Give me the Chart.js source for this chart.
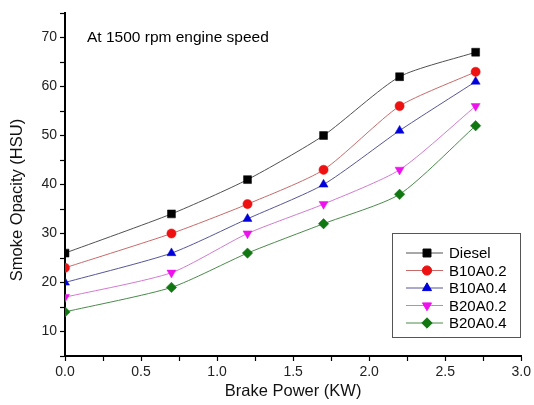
<!DOCTYPE html>
<html>
<head>
<meta charset="utf-8">
<script src="https://cdn.jsdelivr.net/npm/chart.js@4.4.1/dist/chart.umd.min.js"></script>
<style>
  html, body { margin: 0; padding: 0; background: #fff; }
  #wrap { width: 534px; height: 405px; position: relative; }
</style>
</head>
<body>
<div id="wrap"><canvas id="opacityChart"></canvas></div>
<script>
// Datos
const brakePower = [0, 0.7, 1.2, 1.7, 2.2, 2.7];
const seriesNames = ['Diesel', 'B10A0.2', 'B10A0.4', 'B20A0.2', 'B20A0.4'];
const diesel = [26, 34, 41, 50, 62, 67];
const b10a02 = [23, 30, 36, 43, 56, 63];
const b10a04 = [20, 26, 33, 40, 51, 61];
const b20a02 = [17, 22, 30, 36, 43, 56];
const b20a04 = [14, 19, 26, 32, 38, 52];
const xTickLabels = ['0.0', '0.5', '1.0', '1.5', '2.0', '2.5', '3.0'];
const yTickLabels = ['10', '20', '30', '40', '50', '60', '70'];

const FONT = '"Liberation Sans", Arial, sans-serif';

const styles = [
    { marker: '#000000', line: '#505050', pointStyle: 'rect', radius: 5.6, rotation: 0 },
    { marker: '#ee1111', line: '#c86a6a', pointStyle: 'circle', radius: 4.6, rotation: 0 },
    { marker: '#0000dd', line: '#55559a', pointStyle: 'triangle', radius: 5.2, rotation: 0 },
    { marker: '#ee11ee', line: '#d27ad2', pointStyle: 'triangle', radius: 5.2, rotation: 180 },
    { marker: '#117711', line: '#4a8a4a', pointStyle: 'rectRot', radius: 5.2, rotation: 0 }
];

const allValues = [diesel, b10a02, b10a04, b20a02, b20a04];

const datasets = allValues.map((vals, i) => ({
    label: seriesNames[i],
    data: brakePower.map((x, j) => ({ x: x, y: vals[j] })),
    borderColor: styles[i].line,
    borderWidth: 1,
    backgroundColor: styles[i].marker,
    pointBackgroundColor: styles[i].marker,
    pointBorderColor: styles[i].marker,
    pointBorderWidth: 0.5,
    pointStyle: styles[i].pointStyle,
    pointRotation: styles[i].rotation,
    pointRadius: styles[i].radius,
    tension: 0.22,
    fill: false
}));

// Leyenda, texto de la esquina y título del eje Y
const extrasPlugin = {
    id: 'extras',
    afterDraw(chart) {
        const ctx = chart.ctx;
        const area = chart.chartArea;
        ctx.save();
        ctx.fillStyle = '#000';
        ctx.font = '15.5px ' + FONT;
        ctx.textBaseline = 'middle';
        ctx.textAlign = 'left';
        ctx.fillText('At 1500 rpm engine speed', area.left + 22, 38);

        // título eje Y (un poco por debajo del centro, como en el original)
        ctx.save();
        ctx.translate(17, 200);
        ctx.rotate(-Math.PI / 2);
        ctx.textAlign = 'center';
        ctx.fillStyle = '#111';
        ctx.font = '16.5px ' + FONT;
        ctx.fillText('Smoke Opacity (HSU)', 0, 0);
        ctx.restore();

        // caja de leyenda
        const bx = 392, by = 233, bw = 128, bh = 104;
        ctx.fillStyle = '#fff';
        ctx.fillRect(bx, by, bw, bh);
        ctx.strokeStyle = '#555';
        ctx.lineWidth = 1;
        ctx.strokeRect(bx + 0.5, by + 0.5, bw, bh);
        ctx.font = '15px ' + FONT;
        seriesNames.forEach((name, i) => {
            const y = by + 20 + i * 17.5;
            ctx.strokeStyle = styles[i].line;
            ctx.beginPath();
            ctx.moveTo(bx + 14, y);
            ctx.lineTo(bx + 51, y);
            ctx.stroke();
            ctx.fillStyle = styles[i].marker;
            ctx.strokeStyle = styles[i].marker;
            Chart.helpers.drawPoint(ctx, {
                pointStyle: styles[i].pointStyle,
                radius: styles[i].radius,
                rotation: styles[i].rotation,
                borderWidth: 0.5
            }, bx + 35, y);
            ctx.fillStyle = '#000';
            ctx.fillText(name, bx + 57, y + 1);
        });
        ctx.restore();
    }
};

new Chart(document.getElementById('opacityChart'), {
    type: 'line',
    data: { datasets: datasets },
    options: {
        responsive: true,
        maintainAspectRatio: false,
        animation: false,
        layout: { padding: { top: 13, right: 11, left: 0, bottom: 4 } },
        plugins: {
            legend: { display: false },
            tooltip: { enabled: false }
        },
        scales: {
            x: {
                type: 'linear',
                min: 0,
                max: 3,
                ticks: {
                    stepSize: 0.25,
                    autoSkip: false,
                    maxRotation: 0,
                    color: '#222',
                    font: { family: FONT, size: 14 },
                    padding: 3,
                    callback: (v) => {
                        const k = Math.round(v * 2);
                        return Math.abs(v * 2 - k) < 1e-6 ? xTickLabels[k] : '';
                    }
                },
                grid: { drawOnChartArea: false, tickLength: 5, color: '#000', tickWidth: 1.2 },
                border: { color: '#000', width: 2 },
                title: {
                    display: true,
                    text: 'Brake Power (KW)',
                    color: '#111',
                    font: { family: FONT, size: 16.5 },
                    padding: { top: 4, bottom: 0 }
                },
                afterFit: (s) => { s.height = 45; }
            },
            y: {
                min: 5,
                max: 75,
                ticks: {
                    stepSize: 5,
                    autoSkip: false,
                    color: '#222',
                    font: { family: FONT, size: 14 },
                    padding: 3,
                    callback: (v) => (v % 10 === 0 ? yTickLabels[v / 10 - 1] : '')
                },
                grid: { drawOnChartArea: false, tickLength: 5, color: '#000', tickWidth: 1.2 },
                border: { color: '#000', width: 2 },
                afterFit: (s) => { s.width = 65; }
            }
        }
    },
    plugins: [extrasPlugin]
});
</script>
</body>
</html>
